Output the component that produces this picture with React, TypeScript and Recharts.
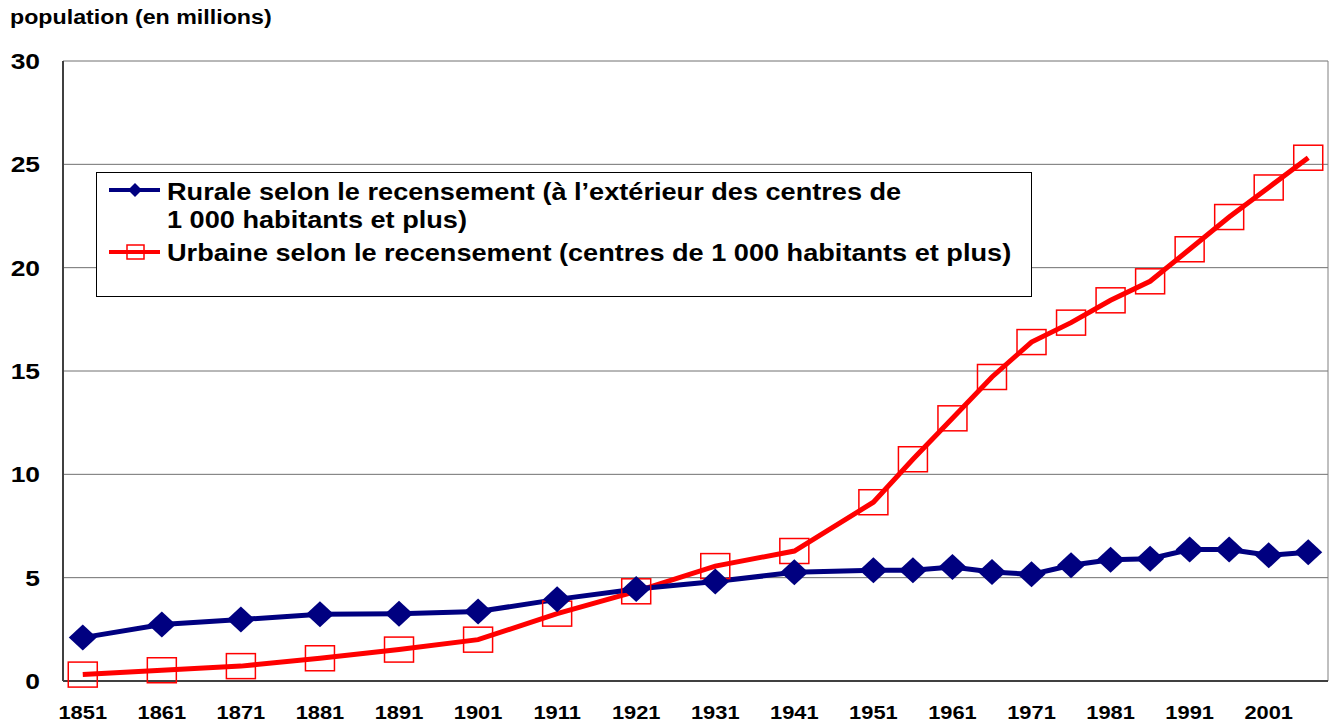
import React from "react";
import { LineChart, Line, XAxis, YAxis, CartesianGrid, Legend, ReferenceLine } from "recharts";

// census years (5-year steps after 1951)
const years = [
  1851, 1861, 1871, 1881, 1891, 1901, 1911, 1921, 1931, 1941, 1951,
  1956, 1961, 1966, 1971, 1976, 1981, 1986, 1991, 1996, 2001, 2006,
];
const rural = [
  2.1, 2.73, 2.97, 3.23, 3.26, 3.36, 3.95, 4.45, 4.81, 5.26, 5.36,
  5.36, 5.52, 5.27, 5.16, 5.6, 5.87, 5.92, 6.36, 6.36, 6.08, 6.23,
];
const urban = [
  0.31, 0.52, 0.72, 1.1, 1.52, 2.0, 3.26, 4.34, 5.56, 6.29, 8.65,
  10.73, 12.71, 14.71, 16.4, 17.34, 18.42, 19.34, 20.89, 22.45, 23.88, 25.32,
];
const xTicks = [1851, 1861, 1871, 1881, 1891, 1901, 1911, 1921, 1931, 1941, 1951, 1961, 1971, 1981, 1991, 2001];
const yTicks = [0, 5, 10, 15, 20, 25, 30];

const ruralLabel = ["Rurale selon le recensement (à l’extérieur des centres de", "1 000 habitants et plus)"];
const urbanLabel = "Urbaine selon le recensement (centres de 1 000 habitants et plus)";

const data = years.map((year, i) => ({ year, rural: rural[i], urban: urban[i] }));

const FONT = '"Liberation Sans", Arial, sans-serif';
const NAVY = "#000080";
const RED = "#ff0000";

const XTick = (props: any) => {
  const { x, y, payload } = props;
  return (
    <text
      transform={`translate(${x},${y + 29.5}) scale(1.15,1)`}
      textAnchor="middle"
      fontFamily={FONT}
      fontWeight="bold"
      fontSize={19}
      fill="#000"
    >
      {payload.value}
    </text>
  );
};

const YTick = (props: any) => {
  const { y, payload } = props;
  return (
    <text
      transform={`translate(40,${y + 8}) scale(1.2,1)`}
      textAnchor="end"
      fontFamily={FONT}
      fontWeight="bold"
      fontSize={22}
      fill="#000"
    >
      {payload.value}
    </text>
  );
};

const Diamond = (props: any) => {
  const { cx, cy, index } = props;
  if (cx == null || cy == null) return <g key={index} />;
  return (
    <path
      key={index}
      d={`M${cx},${cy - 13} L${cx + 14},${cy} L${cx},${cy + 13} L${cx - 14},${cy} Z`}
      fill={NAVY}
    />
  );
};

const Square = (props: any) => {
  const { cx, cy, index } = props;
  if (cx == null || cy == null) return <g key={index} />;
  return <rect key={index} x={cx - 14.5} y={cy - 12.5} width={29} height={25} fill="none" stroke={RED} strokeWidth={1.5} />;
};

const LegendBox = () => (
  <div style={{ width: 936, height: 125, border: "1px solid #000", background: "#fff", boxSizing: "border-box" }}>
    <svg width={934} height={123} style={{ display: "block" }}>
      <line x1={12} x2={63} y1={17} y2={17} stroke={NAVY} strokeWidth={4} />
      <path d="M38,10 L45,17 L38,24 L31,17 Z" fill={NAVY} />
      <line x1={12} x2={63} y1={79} y2={79} stroke={RED} strokeWidth={4} />
      <rect x={30} y={72} width={17} height={14} fill="none" stroke={RED} strokeWidth={1.5} />
      <g fontFamily={FONT} fontWeight="bold" fontSize={23} fill="#000">
        <text transform="translate(70,27) scale(1.18,1)">{ruralLabel[0]}</text>
        <text transform="translate(70,55) scale(1.18,1)">{ruralLabel[1]}</text>
        <text transform="translate(70,88) scale(1.18,1)">{urbanLabel}</text>
      </g>
    </svg>
  </div>
);

export default function App() {
  return (
    <div style={{ position: "absolute", left: 0, top: 0, width: 1331, height: 723, background: "#fff" }}>
      <div
        style={{
          position: "absolute",
          left: 10,
          top: 6,
          fontFamily: FONT,
          fontWeight: "bold",
          fontSize: 20,
          transform: "scale(1.16,1)",
          transformOrigin: "left top",
          whiteSpace: "nowrap",
        }}
      >
        population (en millions)
      </div>
      <LineChart width={1331} height={723} data={data} margin={{ top: 61, right: 3, bottom: 0, left: 0 }}>
        <CartesianGrid horizontal vertical={false} stroke="#707070" strokeWidth={1} />
        <XAxis
          dataKey="year"
          type="number"
          domain={[1848.5, 2008.5]}
          ticks={xTicks}
          tickLine={false}
          height={42}
          stroke="#404040"
          strokeWidth={2}
          tick={<XTick />}
          allowDataOverflow
        />
        <YAxis
          domain={[0, 30]}
          ticks={yTicks}
          tickLine={false}
          width={63}
          stroke="#404040"
          strokeWidth={2}
          tick={<YTick />}
        />
        <ReferenceLine x={2008.5} stroke="#808080" strokeWidth={1} />
        <Legend
          layout="horizontal"
          verticalAlign="middle"
          align="center"
          content={<LegendBox />}
          wrapperStyle={{ position: "absolute", left: 96, top: 172, width: 936, height: 125 }}
        />
        <Line
          dataKey="urban"
          stroke={RED}
          strokeWidth={5}
          dot={Square}
          activeDot={false}
          isAnimationActive={false}
        />
        <Line
          dataKey="rural"
          stroke={NAVY}
          strokeWidth={5}
          dot={Diamond}
          activeDot={false}
          isAnimationActive={false}
        />
      </LineChart>
    </div>
  );
}
